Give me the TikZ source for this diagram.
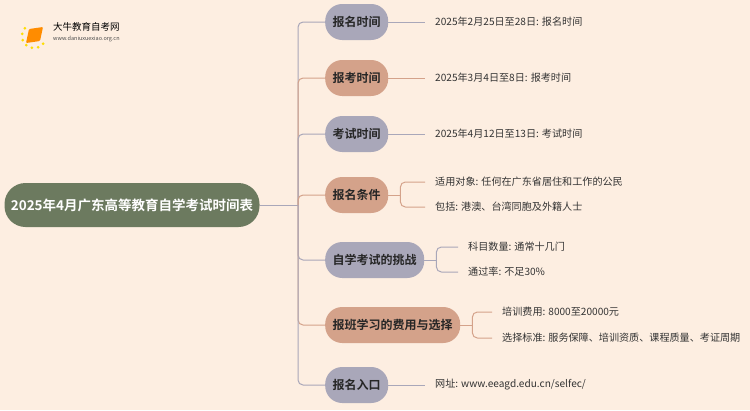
\documentclass[tikz,border=0pt]{standalone}
\usepackage{fontspec}
\setmainfont{Noto Sans CJK SC}
\newfontfamily\boldcjk{Noto Sans CJK SC Bold}
\begin{document}
\begin{tikzpicture}[x=1pt,y=-1pt,
  pill/.style={rounded corners=17pt,minimum height=36pt,inner xsep=7.5pt,font=\boldcjk\fontsize{12}{14}\selectfont,text=black!85},
  gr/.style={fill=gcol},sa/.style={fill=scol},
  leaf/.style={anchor=west,font=\fontsize{10.1}{12}\selectfont,text=black!80,inner sep=0pt},
  br/.style={line width=1pt,rounded corners=5pt}]
\definecolor{bg}{HTML}{FDEEE1}
\definecolor{gcol}{HTML}{A9A7B9}
\definecolor{scol}{HTML}{D4A28A}
\definecolor{root}{HTML}{6C7A5F}
\fill[bg] (0,0) rectangle (750,410);
\useasboundingbox (0,0) rectangle (750,410);
% logo
\fill[orange!90!yellow,rounded corners=1pt] (29,29) -- (43,27) -- (40,41) -- (26,43) -- cycle;
\foreach \a in {100,130,160,190,70,40,220}{\fill[yellow!80!orange] (34,36)+(\a:12) circle (1.5pt);}
\node[anchor=west,font=\fontsize{9.5}{10}\selectfont,inner sep=0pt] (lt) at (53,27) {大牛教育自考网};
\node[anchor=west,font=\fontsize{5.5}{6}\selectfont,inner sep=0pt,text=black!70] (lu) at (53,39) {www.daniuxuexiao.org.cn};
% root
\node[fill=root,rounded corners=21pt,minimum width=255pt,minimum height=44pt,text=white,font=\boldcjk\fontsize{13.5}{16}\selectfont] (r) at (132,205) {2025年4月广东高等教育自学考试时间表};
\coordinate (t) at (298,205);
\draw[gcol,br] (r.east) -- (t);
% nodes
\node[pill,gr,anchor=west] (n1) at (325,22) {报名时间};
\node[pill,sa,anchor=west] (n2) at (325,78) {报考时间};
\node[pill,gr,anchor=west] (n3) at (325,134) {考试时间};
\node[pill,sa,anchor=west] (n4) at (325,195) {报名条件};
\node[pill,gr,anchor=west] (n5) at (325,260) {自学考试的挑战};
\node[pill,sa,anchor=west] (n6) at (325,325) {报班学习的费用与选择};
\node[pill,gr,anchor=west] (n7) at (325,385) {报名入口};
\foreach \n/\c in {n1/gcol,n2/scol,n3/gcol,n4/scol,n5/gcol,n6/scol,n7/gcol}{
  \draw[\c,br] (t) -- (t |- \n.west) -- (\n.west);}
% leaves
\node[leaf] (l1) at (435,22) {2025年2月25日至28日: 报名时间};
\node[leaf] (l2) at (435,78) {2025年3月4日至8日: 报考时间};
\node[leaf] (l3) at (435,134) {2025年4月12日至13日: 考试时间};
\node[leaf] (l7) at (435,385) {网址: www.eeagd.edu.cn/selfec/};
\foreach \n/\l/\c in {n1/l1/gcol,n2/l2/scol,n3/l3/gcol,n7/l7/gcol}{
  \draw[\c,line width=1pt] (\n.east) -- ([xshift=-10pt]\l.west);}
\node[leaf] (l4a) at (435,182) {适用对象: 任何在广东省居住和工作的公民};
\node[leaf] (l4b) at (435,207) {包括: 港澳、台湾同胞及外籍人士};
\node[leaf] (l5a) at (468,247) {科目数量: 通常十几门};
\node[leaf] (l5b) at (468,272) {通过率: 不足30\%};
\node[leaf] (l6a) at (502,312) {培训费用: 8000至20000元};
\node[leaf] (l6b) at (502,338) {选择标准: 服务保障、培训资质、课程质量、考证周期};
\foreach \n/\a/\b/\c in {n4/l4a/l4b/scol,n5/l5a/l5b/gcol,n6/l6a/l6b/scol}{
  \coordinate (j) at ([xshift=12pt]\n.east);
  \draw[\c,line width=1pt] (\n.east) -- (j);
  \draw[\c,br] (j) -- (j |- \a.west) -- ([xshift=-10pt]\a.west);
  \draw[\c,br] (j) -- (j |- \b.west) -- ([xshift=-10pt]\b.west);}
\end{tikzpicture}
\end{document}
